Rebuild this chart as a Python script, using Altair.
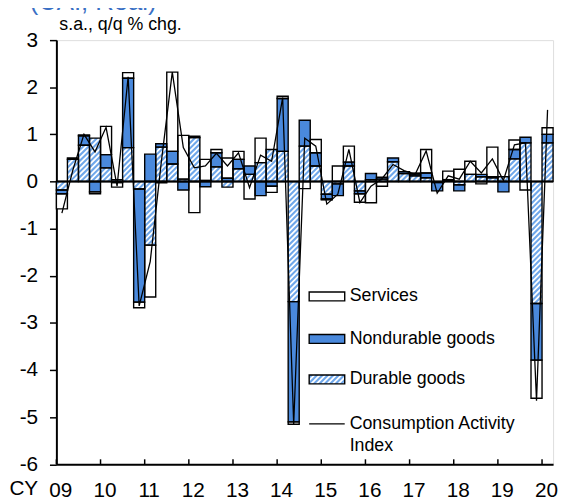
import json
import math
import altair as alt
import pandas as pd

# ---------------- data ----------------
YEAR_LABELS = ["09", "10", "11", "12", "13", "14", "15", "16", "17", "18", "19", "20"]
SERIES = ["Services", "Nondurable goods", "Durable goods"]
LINE_NAME = ["Consumption Activity", "Index"]
TITLE = "(CAI, Real)"
UNIT_NOTE = "s.a., q/q % chg."
X_PREFIX = "CY"

# quarterly, 2009Q1 .. 2020Q1
DURABLE = [-0.18, 0.47, 0.77, 0.92, 0.29, 0.04, 0.72, -0.16, -1.35, 0.73,
           0.37, 0.05, 0.93, 0.02, 0.31, -0.12, 0.27, 0.15, 0.40, 0.68,
           0.64, -2.55, 0.75, 0.33, -0.27, -0.05, 0.33, -0.20, 0.04, 0.05,
           0.42, 0.17, 0.12, 0.08, -0.02, 0.02, -0.07, 0.15, 0.10, 0.08,
           0.10, 0.48, 0.82, -2.59, 0.82]
NONDURABLE = [-0.08, 0.03, 0.20, -0.22, 0.28, -0.02, 1.47, -2.40, 0.58, 0.07,
              0.27, -0.18, 0.03, -0.11, 0.30, 0.07, 0.20, 0.18, -0.30, -0.10,
              1.12, -2.55, 0.55, 0.28, -0.10, -0.25, 0.08, -0.06, 0.13, 0.04,
              0.08, 0.04, 0.04, 0.10, -0.18, 0.02, -0.13, 0.00, 0.05, 0.02,
              -0.22, 0.20, 0.12, -1.20, 0.18]
SERVICES = [-0.32, 0.00, 0.02, -0.04, 0.60, -0.10, 0.12, -0.12, -1.10, -0.03,
            1.68, 0.93, -0.66, 0.45, 0.07, 0.43, 0.17, -0.37, 0.52, -0.13,
            0.05, -0.05, -0.15, 0.28, -0.02, 0.33, 0.34, -0.18, -0.45, -0.10,
            0.00, 0.00, 0.02, 0.50, 0.00, 0.18, 0.26, 0.28, -0.05, 0.63,
            0.00, 0.20, -0.18, -0.81, 0.14]
CAI = [-0.67, 0.25, 1.00, 0.63, 1.15, -0.10, 2.22, -2.64, -1.70, 0.40,
       2.32, 0.72, 0.29, 0.33, 0.60, 0.33, 0.61, -0.13, 0.56, 0.43,
       1.78, -5.15, 0.92, 0.75, -0.48, -0.27, 0.68, -0.45, -0.10, 0.06,
       0.36, 0.23, 0.15, 0.65, -0.25, 0.12, 0.05, 0.43, 0.18, 0.48,
       0.02, 0.78, 0.82, -4.65, 1.52]

Y_TICKS = [-6, -5, -4, -3, -2, -1, 0, 1, 2, 3]

# ---------------- styling ----------------
W, H = 503, 429.5
YMIN, YMAX = -6, 3
NQ = len(CAI)
PX_X = W / NQ
PX_Y = H / (YMAX - YMIN)
FONT = "Liberation Sans"
BLUE = "#4A89DC"
HATCH_BLUE = "#6FA7EA"
TITLE_BLUE = "#3A6FC4"
STRIPE_STEP = 5.5
STRIPE_W = 1.8

# ---------------- derived tables ----------------
rows = []
for i in range(NQ):
    pos, neg = 0.0, 0.0
    for name, vals in (("Durable goods", DURABLE), ("Nondurable goods", NONDURABLE), ("Services", SERVICES)):
        v = vals[i]
        if abs(v) < 0.005:
            continue
        if v > 0:
            y0, y1 = pos, pos + v
            pos += v
        else:
            y0, y1 = neg + v, neg
            neg += v
        rows.append(dict(q=i, q2=i + 1, y0=y0, y1=y1, series=name))
bars = pd.DataFrame(rows)

stripes = []
for r in rows:
    if r["series"] != "Durable goods":
        continue
    X0, X1 = r["q"] * PX_X, r["q2"] * PX_X
    Y0, Y1 = r["y0"] * PX_Y, r["y1"] * PX_Y
    n0 = math.ceil((Y0 - X1) / STRIPE_STEP)
    n1 = math.floor((Y1 - X0) / STRIPE_STEP)
    for n in range(n0, n1 + 1):
        t = n * STRIPE_STEP
        xa = max(X0, Y0 - t)
        xb = min(X1, Y1 - t)
        if xb - xa < 0.3:
            continue
        stripes.append(dict(x=xa / PX_X, x2=xb / PX_X, y=(xa + t) / PX_Y, y2=(xb + t) / PX_Y))
stripes = pd.DataFrame(stripes)

line_df = pd.DataFrame({"qc": [i + 0.5 for i in range(NQ)], "cai": CAI})
tick_df = pd.DataFrame({"pos": [4 * k for k in range(len(YEAR_LABELS))]})
one = pd.DataFrame({"a": [0]})

x_scale = alt.Scale(domain=[0, NQ], nice=False, zero=False)
y_scale = alt.Scale(domain=[YMIN, YMAX], nice=False, zero=False)

label_expr = json.dumps(YEAR_LABELS) + "[round(datum.value / 4)]"

x_axis = alt.Axis(values=tick_df["pos"].tolist(), labelExpr=label_expr, ticks=False,
                  domainColor="black", domainWidth=2, labelFontSize=21, labelPadding=16,
                  labelOffset=4, labelColor="black", labelFont=FONT, title=None, grid=False,
                  labelOverlap=False, labelFlush=False, labelBound=False)
y_axis = alt.Axis(values=Y_TICKS, labelExpr="'' + datum.value", tickSize=7, tickWidth=1.5,
                  tickColor="black", domainColor="black", domainWidth=2, labelFontSize=21,
                  labelPadding=12, labelColor="black", labelFont=FONT, title=None, grid=False)


def X(field):
    return alt.X(field, scale=x_scale, axis=x_axis)


def Y(field):
    return alt.Y(field, scale=y_scale, axis=y_axis)


bar_fill = alt.Chart(bars).mark_rect(strokeWidth=0).encode(
    x=X("q:Q"), x2="q2:Q", y=Y("y0:Q"), y2="y1:Q",
    color=alt.Color("series:N", scale=alt.Scale(domain=SERIES, range=["white", BLUE, HATCH_BLUE]),
                    legend=None),
)

stripe_layer = alt.Chart(stripes).mark_rule(color="white", strokeWidth=STRIPE_W).encode(
    x=X("x:Q"), x2="x2:Q", y=Y("y:Q"), y2="y2:Q",
)

bar_outline = alt.Chart(bars).mark_rect(fillOpacity=0, stroke="black", strokeWidth=1.4).encode(
    x=X("q:Q"), x2="q2:Q", y=Y("y0:Q"), y2="y1:Q",
)

zero_line = alt.Chart(pd.DataFrame({"v": [0]})).mark_rule(color="black", strokeWidth=2).encode(
    y=Y("v:Q"), x=alt.value(0), x2=alt.value(W),
)

cai_line = alt.Chart(line_df).mark_line(color="black", strokeWidth=1.3).encode(
    x=X("qc:Q"), y=Y("cai:Q"),
)

inner_ticks = alt.Chart(tick_df).mark_rule(color="black", strokeWidth=1.5).encode(
    x=X("pos:Q"), y=alt.value(H), y2=alt.value(H - 5),
)


def text_at(txt, x, y, size, color="black", baseline="middle", align="left"):
    return alt.Chart(one).mark_text(text=txt, fontSize=size, font=FONT, color=color,
                                    baseline=baseline, align=align).encode(
        x=alt.value(x), y=alt.value(y))


texts = [
    text_at(TITLE, -27, -31, 26, TITLE_BLUE, baseline="alphabetic"),
    text_at(UNIT_NOTE, 3, -15.5, 18),
    text_at(X_PREFIX, -33, H + 25.5, 21, align="center"),
]

# ---------------- legend ----------------
LX0, LX1 = 256, 292
LTX = 297
LEG_Y = {"Services": 259.6, "Nondurable goods": 302.6, "Durable goods": 343.6}
CAI_Y = 388.6
SYM_H = 9
leg_fill = {"Services": "white", "Nondurable goods": BLUE, "Durable goods": HATCH_BLUE}

legend_layers = []
for name in SERIES:
    yc = LEG_Y[name]
    legend_layers.append(alt.Chart(one).mark_rect(fill=leg_fill[name], strokeWidth=0).encode(
        x=alt.value(LX0), x2=alt.value(LX1), y=alt.value(yc - SYM_H / 2), y2=alt.value(yc + SYM_H / 2)))
    if name == "Durable goods":
        ytop, ybot = yc - SYM_H / 2, yc + SYM_H / 2
        c = LX0 + ytop
        c_end = LX1 + ybot
        while c <= c_end:
            xa = max(LX0, c - ybot)
            xb = min(LX1, c - ytop)
            if xb - xa > 0.3:
                legend_layers.append(alt.Chart(one).mark_rule(color="white", strokeWidth=STRIPE_W).encode(
                    x=alt.value(xa), x2=alt.value(xb), y=alt.value(c - xa), y2=alt.value(c - xb)))
            c += STRIPE_STEP
    legend_layers.append(alt.Chart(one).mark_rect(fillOpacity=0, stroke="black", strokeWidth=1.4).encode(
        x=alt.value(LX0), x2=alt.value(LX1), y=alt.value(yc - SYM_H / 2), y2=alt.value(yc + SYM_H / 2)))
    legend_layers.append(text_at(name, LTX, yc, 18))

legend_layers.append(alt.Chart(one).mark_rule(color="black", strokeWidth=1.3).encode(
    x=alt.value(LX0), x2=alt.value(LX1), y=alt.value(CAI_Y)))
legend_layers.append(text_at(LINE_NAME[0], LTX, CAI_Y, 18))
legend_layers.append(text_at(LINE_NAME[1], LTX, CAI_Y + 22, 18))

chart = alt.layer(
    bar_fill, stripe_layer, bar_outline, zero_line, cai_line, inner_ticks, *texts, *legend_layers
).properties(
    width=W, height=H,
    padding={"left": 49, "top": 29.4, "right": 6, "bottom": 36},
    autosize=alt.AutoSizeParams(type="none"),
    background="white",
).configure_view(
    stroke="#333333", strokeWidth=1
).configure(font=FONT)

chart.save("out.html", embed_options={"renderer": "svg", "actions": False})
